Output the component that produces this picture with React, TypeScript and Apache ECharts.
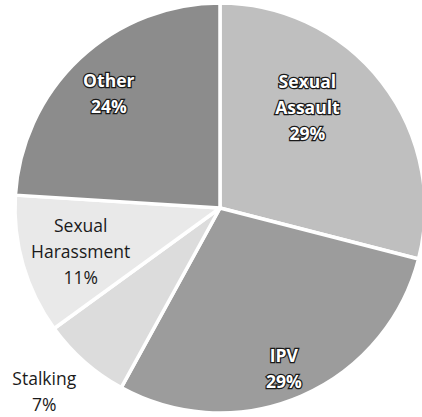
import React, { useEffect, useRef } from "react";
import * as echarts from "echarts";

const categories = ["Sexual\nAssault", "IPV", "Stalking", "Sexual\nHarassment", "Other"];
const values = [29, 29, 7, 11, 24];
const sliceColors = ["#bfbfbf", "#9c9c9c", "#dcdcdc", "#e9e9e9", "#8c8c8c"];
const labelOffsets: [number, number][] = [[4, -36], [22, 63], [-106, 104], [-38, 14], [-39, -38]];
const labelOutlined = [true, true, false, false, true];

export default function App() {
  const ref = useRef<HTMLDivElement>(null);
  useEffect(() => {
    if (!ref.current) return;
    const chart = echarts.init(ref.current, undefined, { renderer: "svg" });
    const data = categories.map((name, i) => ({
      name,
      value: values[i],
      itemStyle: { color: sliceColors[i] },
      label: labelOutlined[i]
        ? {
            offset: labelOffsets[i],
            color: "#ffffff",
            fontWeight: "bold" as const,
            textBorderColor: "#1a1a1a",
            textBorderWidth: 2.5,
          }
        : {
            offset: labelOffsets[i],
            color: "#1a1a1a",
            fontWeight: "normal" as const,
          },
    }));
    chart.setOption({
      animation: false,
      backgroundColor: "#ffffff",
      series: [
        {
          type: "pie",
          center: [220, 208],
          radius: [0, 205],
          startAngle: 90,
          clockwise: true,
          avoidLabelOverlap: false,
          itemStyle: { borderColor: "#ffffff", borderWidth: 3.5 },
          label: {
            show: true,
            position: "inside",
            formatter: "{b}\n{c}%",
            fontFamily: "Open Sans",
            fontSize: 17.5,
            lineHeight: 26,
            align: "center",
          },
          labelLine: { show: false },
          data,
        },
      ],
    });
    return () => chart.dispose();
  }, []);
  return (
    <div
      ref={ref}
      style={{ position: "fixed", left: 0, top: 0, width: 422, height: 417 }}
    />
  );
}
